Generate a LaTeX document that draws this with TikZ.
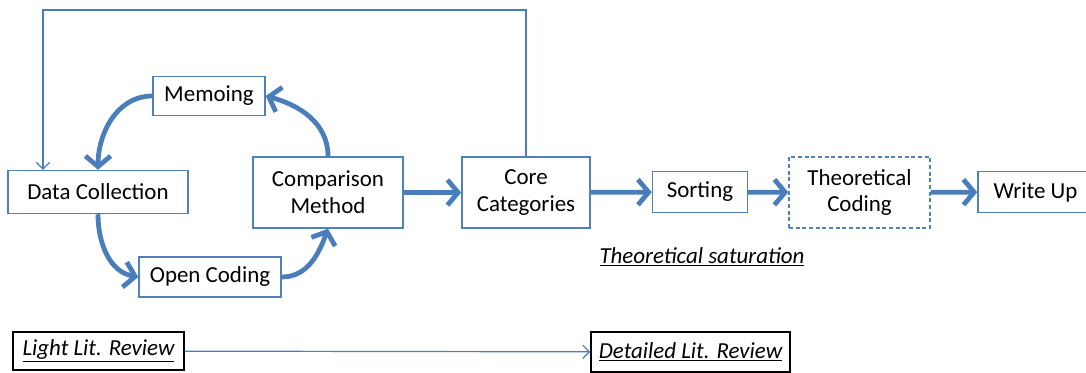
\documentclass[tikz,border=0pt]{standalone}
\usepackage{fontspec}
\setmainfont{Carlito}
\usetikzlibrary{arrows.meta}

\definecolor{boxblue}{RGB}{79,129,189}
\definecolor{arrowblue}{RGB}{74,126,187}

\begin{document}
\begin{tikzpicture}[x=0.75pt,y=-0.75pt,
    font=\fontsize{17.2}{20}\selectfont,
    box/.style={draw=boxblue,line width=1.1pt,inner sep=0pt,align=center},
    litbox/.style={draw=black,line width=1.1pt,inner sep=0pt,font=\fontsize{17.2}{20}\selectfont\itshape},
    flow/.style={draw=arrowblue,line width=3.6pt,-{Straight Barb[length=8pt,width=19pt]}},
    thinflow/.style={draw=arrowblue,line width=0.9pt,-{Straight Barb[length=5pt,width=10pt]}}]

      \useasboundingbox (0,0) rectangle (1086,372);

      % The comparison cycle.
      \node [box,minimum width=84pt,minimum height=29.25pt] (memo) at (209,96) {Memoing};
      \node [box,minimum width=135pt,minimum height=32.25pt] (datacoll) at (98,192) {Data Collection};
      \node [box,minimum width=106.5pt,minimum height=30pt] (opencod) at (210,277) {Open Coding};
      \node [box,minimum width=112.5pt,minimum height=53.25pt] (compare) at (328,192.5) {Comparison\\Method};

      % The main line.
      \node [box,minimum width=96pt,minimum height=53.25pt] (core) at (526,192.5) {Core\\Categories};
      \node [box,minimum width=71.25pt,minimum height=30.75pt] (sorting) at (700,192) {Sorting};
      \node [box,dashed,dash pattern=on 3pt off 2pt,minimum width=105.75pt,minimum height=53.25pt] (theocod) at (859.5,192.5) {Theoretical\\Coding};
      \node [box,minimum width=86.25pt,minimum height=30.75pt] (writeup) at (1035.5,192) {Write Up};

      \node (saturation) at (702,257) {\underline{\textit{Theoretical saturation}}};

      % The literature review.
      \node [litbox,minimum width=128.25pt,minimum height=28.5pt] (lightlit) at (98.5,351) {\underline{Light Lit. Review}};
      \node [litbox,minimum width=149.25pt,minimum height=30pt] (detailedlit) at (690.5,352) {\underline{Detailed Lit. Review}};

      % The curved arrows.
      \draw [flow] (memo.west) to[out=180,in=90] (datacoll.north);
      \draw [flow] (datacoll.south) to[out=-90,in=170] (opencod.west);
      \draw [flow] (opencod.east) to[out=0,in=-110] (compare.south);
      \draw [flow] (compare.north) to[out=90,in=-15] (memo.east);

      \draw [flow] (compare) -- (core);
      \draw [flow] (core) -- (sorting);
      \draw [flow] (sorting) -- (theocod);
      \draw [flow] (theocod) -- (writeup);

      % The way back.
      \coordinate (fbtop) at (43,10);
      \draw [thinflow] (core.north) |- (fbtop) -- (fbtop |- datacoll.north);

      \draw [thinflow] (lightlit) -- (detailedlit);

    \end{tikzpicture}
\end{document}
